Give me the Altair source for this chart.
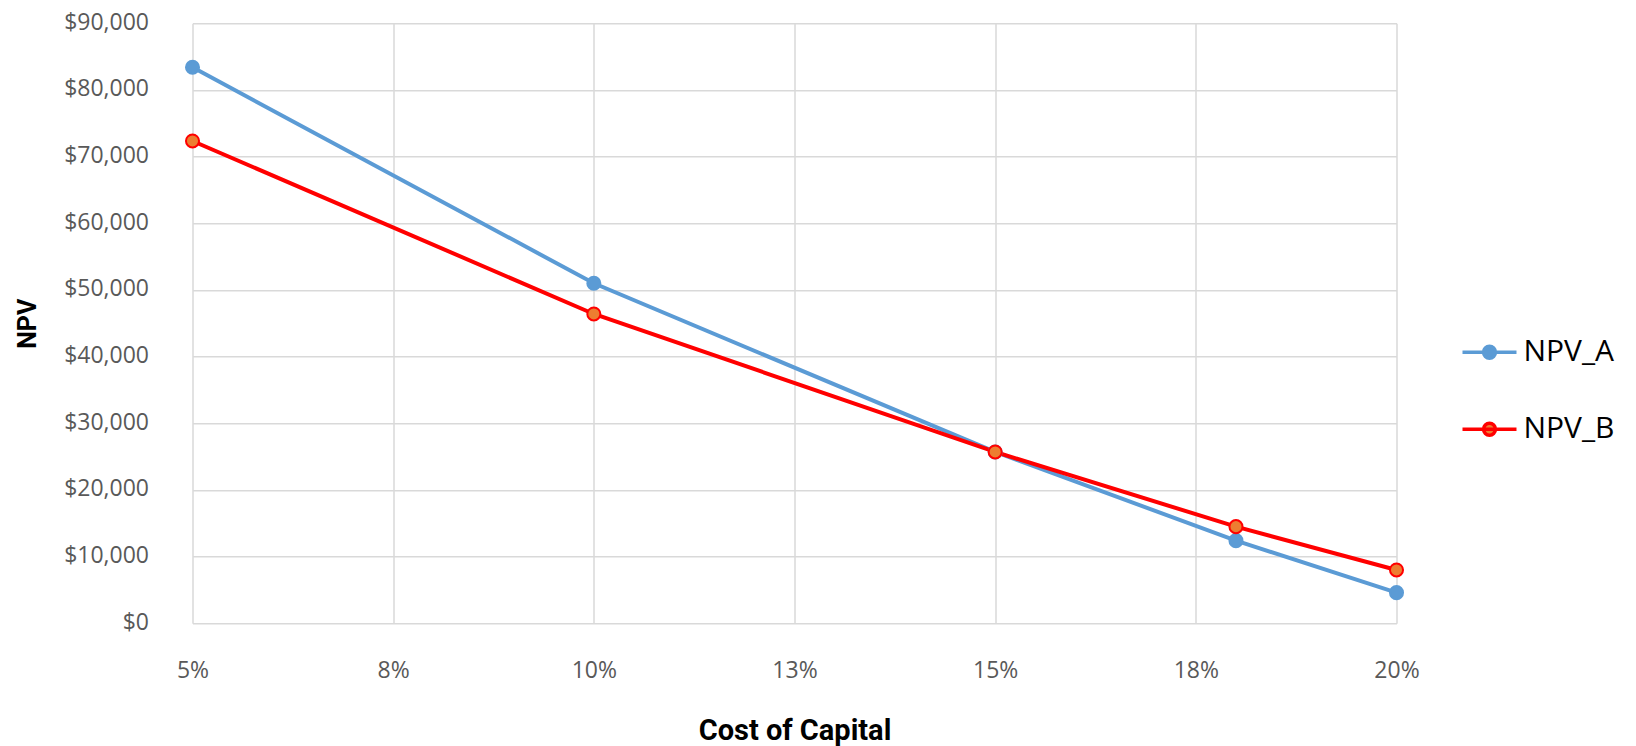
import altair as alt
import pandas as pd

# ---- data ----
rates = [5, 10, 15, 18, 20]                      # cost of capital, %
npv_a = [83400, 51000, 25700, 12400, 4600]
npv_b = [72350, 46400, 25700, 14500, 8000]
series_names = ["NPV_A", "NPV_B"]
x_ticks = [5, 7.5, 10, 12.5, 15, 17.5, 20]
y_ticks = [0, 10000, 20000, 30000, 40000, 50000, 60000, 70000, 80000, 90000]

line_colors = ["#5B9BD5", "#FF0000"]
fill_colors = ["#5B9BD5", "#ED7D31"]

rows = []
for name, vals in zip(series_names, [npv_a, npv_b]):
    for r, v in zip(rates, vals):
        rows.append({"rate": r, "npv": v, "series": name})
df = pd.DataFrame(rows)

TICK_FONT = "Open Sans"
TITLE_FONT = "Roboto"
GRID = "#D9D9D9"

legend_symbol = ("M-1,0H1M-0.22,0A0.22,0.22 0 1,0 0.22,0"
                 "A0.22,0.22 0 1,0 -0.22,0Z")

x_enc = alt.X(
    "rate:Q",
    scale=alt.Scale(domain=[5, 20], nice=False, zero=False),
    axis=alt.Axis(
        values=x_ticks,
        labelExpr="round(datum.value) + '%'",
        title="Cost of Capital",
        grid=True, gridColor=GRID, gridWidth=1.5,
        ticks=False, domain=False,
        labelFlush=False, labelOverlap=False,
        labelFont=TICK_FONT, labelFontSize=23, labelColor="#595959",
        labelBaseline="alphabetic", labelPadding=54,
        titleFont=TITLE_FONT, titleFontSize=29, titleFontWeight="bold",
        titleColor="#000000", titleBaseline="alphabetic", titleY=116.6,
    ),
)

y_enc = alt.Y(
    "npv:Q",
    scale=alt.Scale(domain=[0, 90000], nice=False),
    axis=alt.Axis(
        values=y_ticks,
        format="$,.0f",
        title="NPV",
        grid=True, gridColor=GRID, gridWidth=1.5,
        ticks=False, domain=False,
        labelOverlap=False, labelFlush=False,
        labelFont=TICK_FONT, labelFontSize=23, labelColor="#595959",
        labelPadding=44, labelOffset=-1,
        titleFont=TITLE_FONT, titleFontSize=25, titleFontWeight="bold",
        titleColor="#000000", titleAngle=270, titleBaseline="alphabetic",
        titleAlign="center", titleX=-157.5, titleY=300,
    ),
)

stroke_scale = alt.Scale(domain=series_names, range=line_colors)
fill_scale = alt.Scale(domain=series_names, range=fill_colors)

legend = alt.Legend(
    title=None, orient="none", legendX=1268, legendY=300,
    symbolType=legend_symbol, symbolSize=2916, symbolStrokeWidth=3.5,
    symbolOpacity=1,
    labelFont="Open Sans", labelFontSize=30, labelColor="#000000",
    rowPadding=33, labelOffset=5, padding=0,
)

base = alt.Chart(df)

lines = base.mark_line(strokeWidth=4).encode(
    x=x_enc, y=y_enc,
    stroke=alt.Stroke("series:N", scale=stroke_scale, legend=legend),
    order=alt.Order("rate:Q"),
)

points = base.mark_point(shape="circle", filled=True, size=170,
                         strokeWidth=2, opacity=1).encode(
    x=x_enc, y=y_enc,
    stroke=alt.Stroke("series:N", scale=stroke_scale, legend=legend),
    fill=alt.Fill("series:N", scale=fill_scale, legend=legend),
)

chart = alt.layer(lines, points).properties(
    width=1204, height=600,
    padding={"left": 184.5, "top": 15.3, "right": 231.5, "bottom": 130},
    autosize=alt.AutoSizeParams(type="none"),
    background="white",
).configure_view(stroke=None)

chart.save("out.html", embed_options={"renderer": "svg", "actions": False})
